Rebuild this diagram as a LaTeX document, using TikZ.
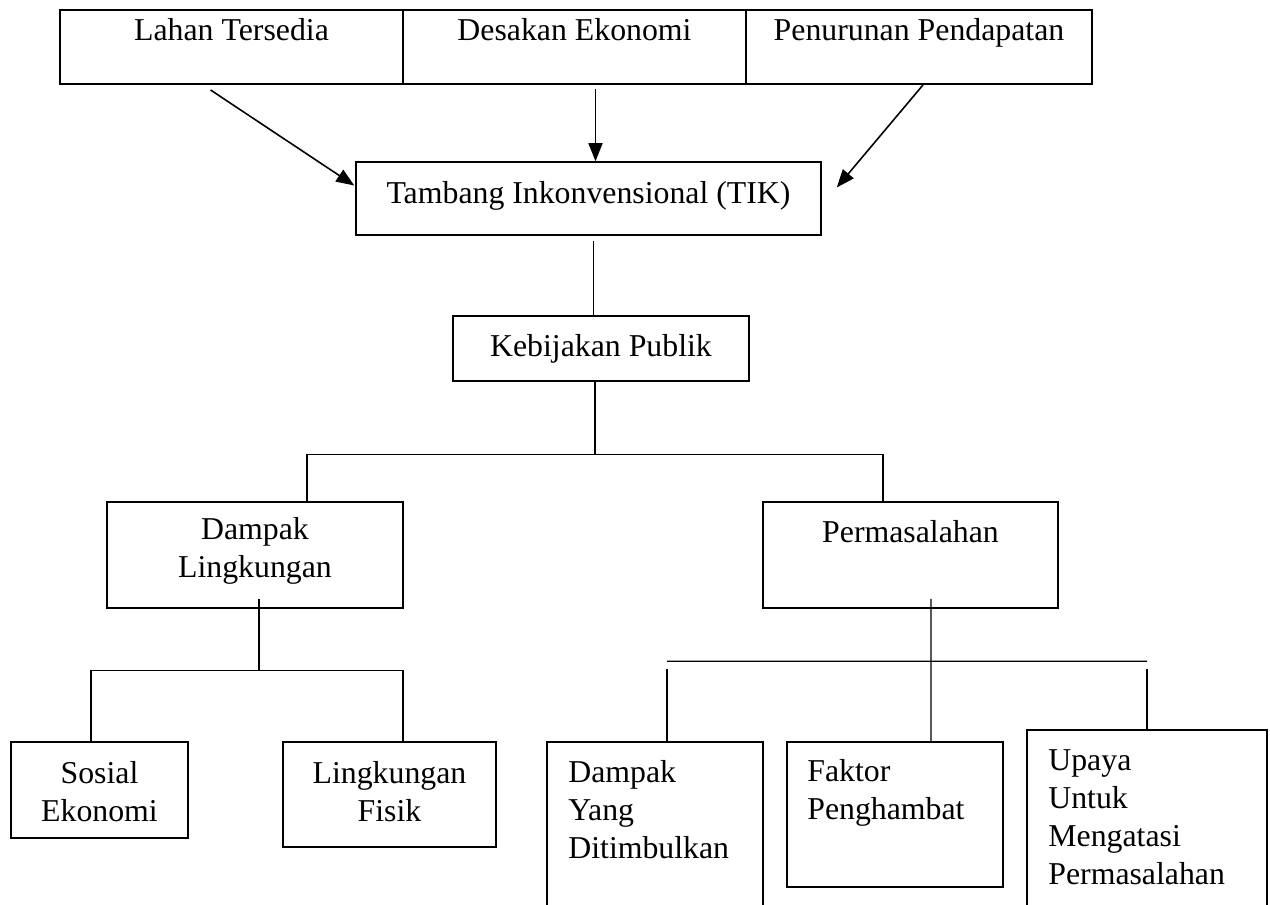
\documentclass[tikz,border=0pt]{standalone}
\usepackage{fontspec}
\setmainfont{Liberation Serif}
\usetikzlibrary{calc,arrows.meta}
\tikzset{
	kotak/.style={draw, line width=0.9pt, inner sep=0pt},
	teks/.style={inner sep=0pt, font=\fontsize{18.1}{21.6}\selectfont},
	garis/.style={line width=0.8pt},
	panah/.style={line width=0.9pt, -{Triangle[length=3.6mm,width=2.8mm]}}
}
\begin{document}
\begin{tikzpicture}[x=0.02cm, y=-0.02cm]
	\useasboundingbox (0,0) rectangle (1270,905);
	% baris atas
	\node[kotak, line width=1.1pt, minimum width=6.86cm, minimum height=1.48cm] (lahan) at (231.5,47) {};
	\node[kotak, line width=1.1pt, minimum width=6.86cm, minimum height=1.48cm] (desakan) at (574.5,47) {};
	\node[kotak, line width=1.1pt, minimum width=6.92cm, minimum height=1.48cm] (penurunan) at (919,47) {};
	\node[teks, anchor=base] (lahanT) at (231.5,41) {Lahan Tersedia};
	\node[teks, anchor=base] (desakanT) at (574.5,41) {Desakan Ekonomi};
	\node[teks, anchor=base] (penurunanT) at (919,41) {Penurunan Pendapatan};

	\node[kotak, minimum width=9.30cm, minimum height=1.46cm] (tik) at (588.5,198.5) {};
	\node[teks, anchor=base] (tikT) at (588.5,204) {Tambang Inkonvensional (TIK)};
	\node[kotak, minimum width=5.92cm, minimum height=1.30cm] (kebijakan) at (601,348.5) {};
	\node[teks, anchor=base] (kebijakanT) at (601,357) {Kebijakan Publik};

	\node[kotak, minimum width=5.92cm, minimum height=2.12cm] (dampakL) at (255,555) {};
	\node[teks, align=center] (dampakLT) at (255,551) {Dampak\\Lingkungan};
	\node[kotak, minimum width=5.90cm, minimum height=2.12cm] (masalah) at (910.5,555) {};
	\node[teks, anchor=base] (masalahT) at (910.5,542) {Permasalahan};

	% baris bawah
	\node[kotak, minimum width=3.54cm, minimum height=1.92cm] (sosial) at (99.5,790) {};
	\node[teks, align=center] (sosialT) at (99.5,792) {Sosial\\Ekonomi};
	\node[kotak, minimum width=4.26cm, minimum height=2.10cm] (fisik) at (389.5,794.5) {};
	\node[teks, align=center] (fisikT) at (389.5,792) {Lingkungan\\Fisik};
	\node[kotak, minimum width=4.32cm, minimum height=3.66cm] (dampakY) at (655,833.5) {};
	\node[teks, align=left, anchor=west] (dampakYT) at (568,810) {Dampak\\Yang\\Ditimbulkan};
	\node[kotak, minimum width=4.32cm, minimum height=2.90cm] (faktor) at (895,814.5) {};
	\node[teks, align=left, anchor=west] (faktorT) at (807,793) {Faktor\\Penghambat};
	\node[kotak, minimum width=4.80cm, minimum height=3.90cm] (upaya) at (1147,827.5) {};
	\node[teks, align=left, anchor=west] (upayaT) at (1048,817) {Upaya\\Untuk\\Mengatasi\\Permasalahan};

	% panah ke TIK
	\coordinate (d1) at ($(desakan.south)+(21,4)$);
	\draw[panah] ($(lahan.south)+(-21,5)$) -- ($(tik.west)+(-1,-13)$);
	\draw[panah] (d1) -- (d1 |- tik.north);
	\draw[panah] ($(penurunan.south)+(4,0)$) -- ($(tik.east)+(15,-11)$);

	% garis pohon
	\coordinate (t1) at ($(tik.south)+(5,5)$);
	\coordinate (k1) at ($(kebijakan.south)+(-6,73)$);
	\coordinate (l1) at ($(dampakL.south)+(4,62)$);
	\draw[garis] (t1) -- (t1 |- kebijakan.north);
	\draw[garis] ($(kebijakan.south)+(-6,0)$) -- (k1);
	\draw[garis] ($(dampakL.north)+(52,0)$) |- (k1) -| ($(masalah.north)+(-27.5,0)$);
	\draw[garis] ($(dampakL.south)+(4,-10)$) -- (l1);
	\draw[garis] ($(sosial.north)+(-8.5,0)$) |- (l1) -| ($(fisik.north)+(13.5,0)$);
	\draw[garis] ($(masalah.south)+(20.5,-10)$) -- ($(faktor.north)+(36,0)$);
	\draw[garis] ($(dampakY.north)+(12,-80)$) -- ($(upaya.north)+(0,-68)$);
	\draw[garis] ($(dampakY.north)+(12,-72)$) -- ($(dampakY.north)+(12,0)$);
	\draw[garis] ($(upaya.north)+(0,-60)$) -- (upaya.north);
\end{tikzpicture}
\end{document}
